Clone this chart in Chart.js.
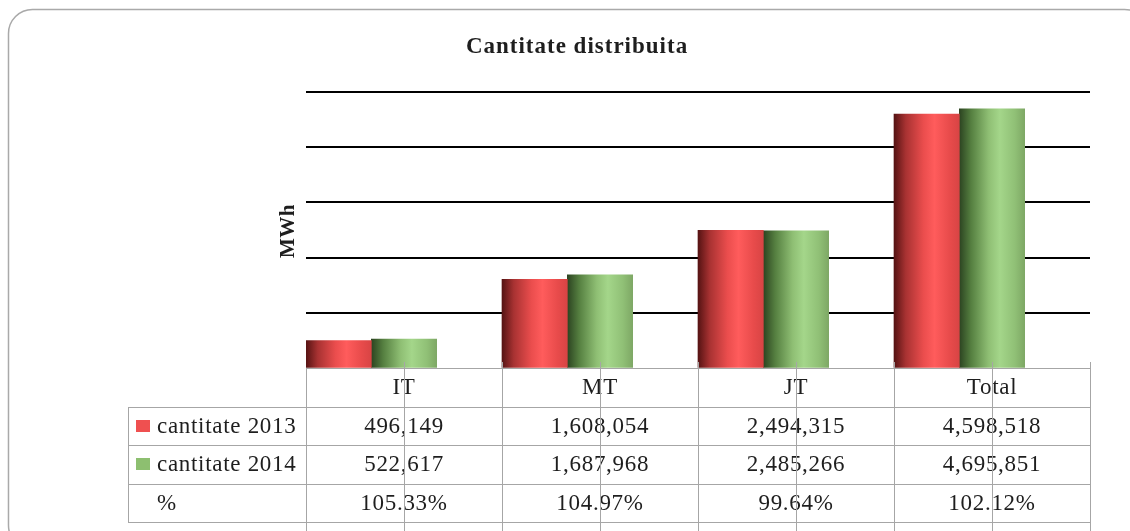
<!DOCTYPE html>
<html lang="ro">
<head>
<meta charset="UTF-8">
<title>Cantitate distribuita</title>
<script src="https://cdn.jsdelivr.net/npm/chart.js"></script>
<style>
  html, body { margin: 0; padding: 0; background: #fff; }
  #wrap { width: 1130px; height: 531px; position: relative; }
</style>
</head>
<body>
<div id="wrap"><canvas id="chart"></canvas></div>
<script>
// data
const categories = ['IT', 'MT', 'JT', 'Total'];
const cant2013 = [496149, 1608054, 2494315, 4598518];
const cant2014 = [522617, 1687968, 2485266, 4695851];
const percent = [105.33, 104.97, 99.64, 102.12];
const seriesNames = ['cantitate 2013', 'cantitate 2014', '%'];
const yTicks = [0, 1000000, 2000000, 3000000, 4000000, 5000000];

const SERIF = '"Liberation Serif", "Times New Roman", serif';
const TXT = '#1e1e1e';
const LINE = '#a6a6a6';

function fmt(n) { return n.toLocaleString('en-US'); }

function barGradient(ctx, x0, x1, stops) {
  const g = ctx.createLinearGradient(x0, 0, x1, 0);
  stops.forEach(s => g.addColorStop(s[0], s[1]));
  return g;
}
const redStops = [[0, '#561313'], [0.18, '#a83232'], [0.45, '#ea4d4d'], [0.62, '#ff5c5c'], [0.85, '#e84b4b'], [1, '#d84444']];
const greenStops = [[0, '#2c4421'], [0.18, '#557f40'], [0.45, '#8fbf74'], [0.62, '#a4d68a'], [0.85, '#90c076'], [1, '#7ea865']];

// each bar gets its own horizontal shading, from the position the library gave it
const shadeBars = {
  id: 'shadeBars',
  beforeDatasetsDraw(chart) {
    const ctx = chart.ctx;
    [0, 1].forEach(di => {
      const stops = di === 0 ? redStops : greenStops;
      chart.getDatasetMeta(di).data.forEach(el => {
        const x0 = el.x - el.width / 2, x1 = el.x + el.width / 2;
        el.options = Object.assign(Object.create(Object.getPrototypeOf(el.options)), el.options);
        el.options.backgroundColor = barGradient(ctx, x0, x1, stops);
      });
    });
  }
};

const frameAndTable = {
  id: 'frameAndTable',
  beforeDraw(chart) {
    const ctx = chart.ctx;
    ctx.save();
    ctx.strokeStyle = '#a9a9a9';
    ctx.lineWidth = 1.5;
    ctx.beginPath();
    ctx.roundRect(8.5, 9.5, 1140, 540, 24);
    ctx.stroke();
    ctx.restore();
  },
  afterDraw(chart) {
    const ctx = chart.ctx;
    const area = chart.chartArea;
    const xs = chart.scales.x;
    const catW = (area.right - area.left) / categories.length;
    const rows = [area.bottom, 406.5, 445, 483.5, 522];
    const tableLeft = 128;
    ctx.save();

    // title
    ctx.fillStyle = TXT;
    ctx.font = 'bold 23px ' + SERIF;
    ctx.letterSpacing = '1px';
    ctx.textAlign = 'center';
    ctx.textBaseline = 'alphabetic';
    ctx.fillText('Cantitate distribuita', 577, 53);

    // axis title
    ctx.save();
    ctx.font = 'bold 21px ' + SERIF;
    ctx.letterSpacing = '0.5px';
    ctx.translate(294, 231);
    ctx.rotate(-Math.PI / 2);
    ctx.textBaseline = 'alphabetic';
    ctx.fillText('MWh', 0, 0);
    ctx.restore();

    // table grid
    ctx.strokeStyle = LINE;
    ctx.lineWidth = 1;
    ctx.beginPath();
    for (let r = 1; r < rows.length; r++) {
      ctx.moveTo(tableLeft, Math.round(rows[r]) + 0.5);
      ctx.lineTo(area.right, Math.round(rows[r]) + 0.5);
    }
    ctx.moveTo(tableLeft + 0.5, Math.round(rows[1]));
    ctx.lineTo(tableLeft + 0.5, Math.round(rows[4]) + 1);
    for (let i = 0; i <= categories.length; i++) {
      const x = Math.round(area.left + i * catW) + 0.5;
      ctx.moveTo(x, i === 0 ? area.bottom : area.bottom - 6);
      ctx.lineTo(x, 531);
    }
    ctx.stroke();

    // text cells
    ctx.fillStyle = TXT;
    ctx.font = '23px ' + SERIF;
    ctx.letterSpacing = '0.7px';
    ctx.textBaseline = 'middle';
    ctx.textAlign = 'center';
    const rowVals = [cant2013.map(fmt), cant2014.map(fmt), percent.map(p => p.toFixed(2) + '%')];
    categories.forEach((c, i) => {
      const cx = xs.getPixelForValue(i);
      ctx.fillText(c, cx, (rows[0] + rows[1]) / 2 + 1);
      rowVals.forEach((vals, r) => {
        ctx.fillText(vals[i], cx, (rows[r + 1] + rows[r + 2]) / 2 + 1);
      });
    });

    // row headers with keys
    ctx.textAlign = 'left';
    const keyColors = ['#ef5050', '#8dbf70', null];
    seriesNames.forEach((name, r) => {
      const cy = (rows[r + 1] + rows[r + 2]) / 2;
      if (keyColors[r]) {
        ctx.fillStyle = keyColors[r];
        ctx.fillRect(136, Math.round(cy) - 6, 14, 12);
      }
      ctx.fillStyle = TXT;
      ctx.fillText(name, 157, cy + 1);
    });

    // category tick marks running through the table
    ctx.strokeStyle = LINE;
    ctx.beginPath();
    categories.forEach((c, i) => {
      const x = Math.round(xs.getPixelForValue(i)) + 0.5;
      ctx.moveTo(x, area.bottom - 6);
      ctx.lineTo(x, 531);
    });
    ctx.stroke();
    ctx.restore();
  }
};

new Chart(document.getElementById('chart'), {
  type: 'bar',
  data: {
    labels: categories,
    datasets: [
      { label: seriesNames[0], data: cant2013, backgroundColor: () => '#ef5050', borderWidth: 0 },
      { label: seriesNames[1], data: cant2014, backgroundColor: () => '#8dbf70', borderWidth: 0 },
      { label: 'gap', data: categories.map(() => null), backgroundColor: 'transparent' }
    ]
  },
  options: {
    responsive: true,
    maintainAspectRatio: false,
    animation: false,
    events: [],
    layout: { padding: { left: 306, right: 40, top: 92, bottom: 163 } },
    datasets: { bar: { categoryPercentage: 1, barPercentage: 1 } },
    plugins: {
      legend: { display: false },
      title: { display: false },
      tooltip: { enabled: false }
    },
    scales: {
      x: {
        ticks: { display: false },
        grid: { display: false },
        border: { display: false },
        afterFit(s) { s.height = 0; }
      },
      y: {
        min: 0,
        max: yTicks[yTicks.length - 1],
        afterBuildTicks(s) { s.ticks = yTicks.map(v => ({ value: v })); },
        ticks: { display: false },
        grid: {
          drawTicks: false,
          color: c => (c.tick && c.tick.value === 0 ? LINE : '#000'),
          lineWidth: c => (c.tick && c.tick.value === 0 ? 1 : 2)
        },
        border: { display: false },
        afterFit(s) { s.width = 0; }
      }
    }
  },
  plugins: [shadeBars, frameAndTable]
});
</script>
</body>
</html>
